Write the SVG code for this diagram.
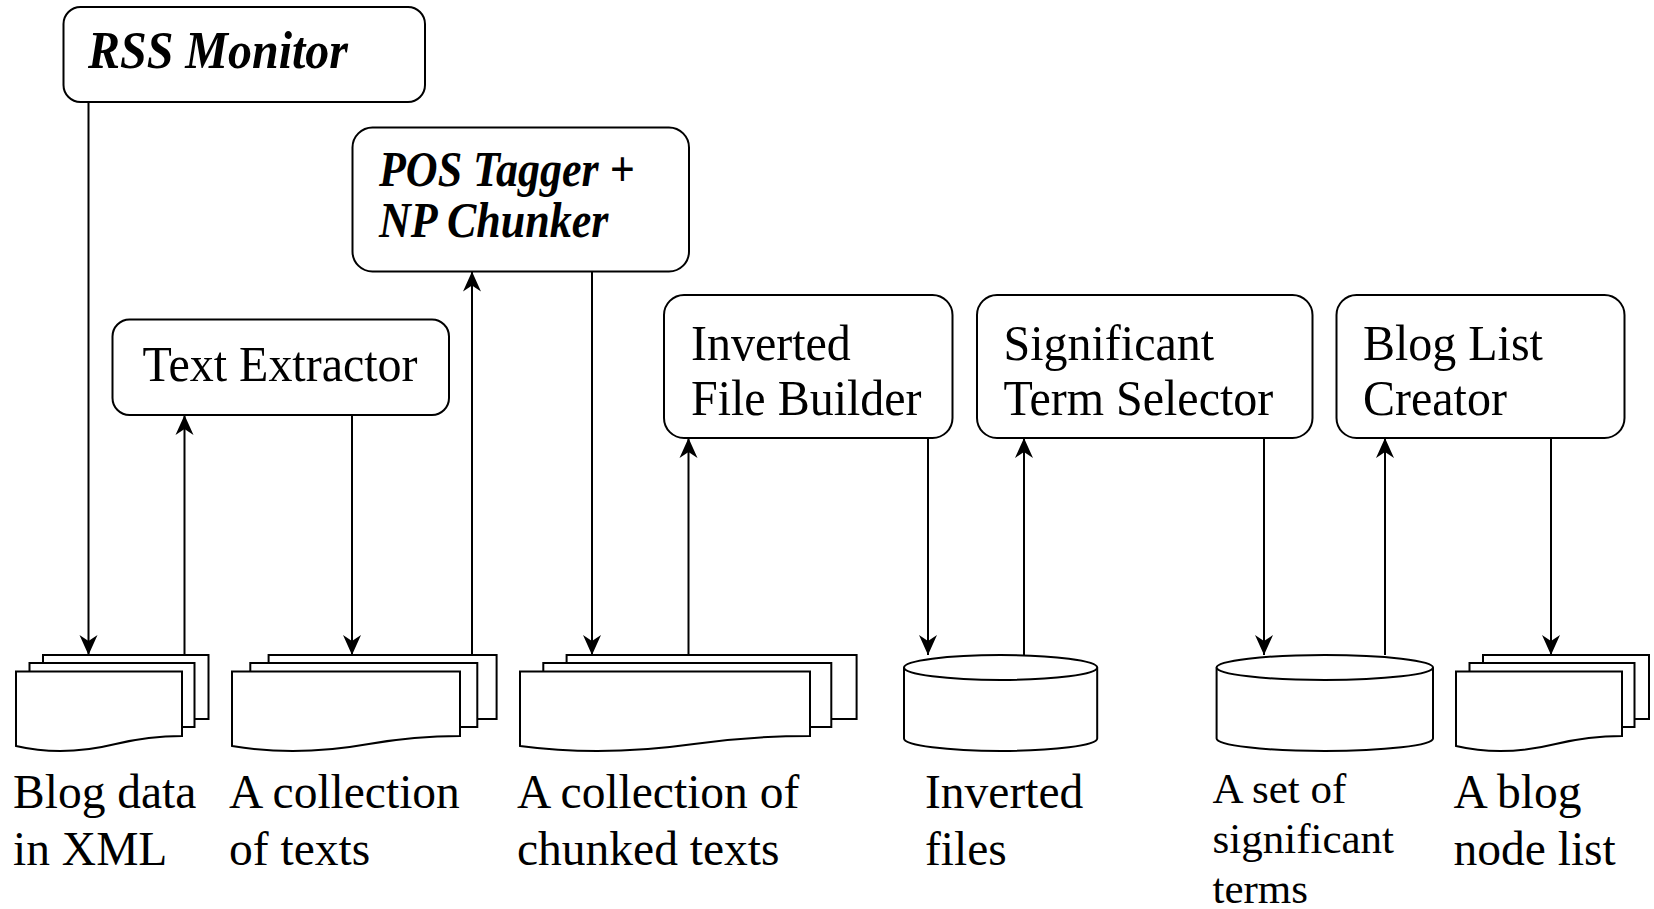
<svg xmlns="http://www.w3.org/2000/svg" width="1654" height="909" viewBox="0 0 1654 909">
  <style>
    .box { fill: #fff; stroke: #000; stroke-width: 2; }
    .page { fill: #fff; stroke: #000; stroke-width: 2; stroke-linejoin: miter; }
    .db { fill: #fff; stroke: #000; stroke-width: 2; }
    .wire { fill: none; stroke: #000; stroke-width: 2; }
    .proc { font-family: "Liberation Serif", "Times New Roman", serif; font-size: 48px; fill: #000; }
    .proc-em { font-family: "Liberation Serif", "Times New Roman", serif; font-size: 48px; font-weight: bold; font-style: italic; fill: #000; }
    .proc-em-sm { font-family: "Liberation Serif", "Times New Roman", serif; font-size: 44px; font-weight: bold; font-style: italic; fill: #000; }
    .lbl { font-family: "Liberation Serif", "Times New Roman", serif; font-size: 47.5px; fill: #000; }
    .lbl-sm { font-family: "Liberation Serif", "Times New Roman", serif; font-size: 43px; fill: #000; }
  </style>
  <defs>
    <marker id="arrow" viewBox="0 0 20 20" refX="20" refY="10" markerWidth="20" markerHeight="20" markerUnits="userSpaceOnUse" orient="auto">
      <path d="M0,1 L20,10 L0,19 L6,10 Z" fill="#000"/>
    </marker>
  </defs>

  <rect width="1654" height="909" fill="#fff"/>

  <!-- processing components -->
  <g id="rss-monitor">
    <rect class="box" x="63.5" y="7" width="361.5" height="95" rx="17"/>
    <g transform="translate(88,68) scale(1,1.1)">
      <text class="proc-em" x="0" y="0">RSS Monitor</text>
    </g>
  </g>

  <g id="text-extractor">
    <rect class="box" x="112.5" y="319.5" width="336.5" height="95.5" rx="17"/>
    <g transform="translate(142.5,380.5) scale(1,1.07)">
      <text class="proc" x="0" y="0">Text Extractor</text>
    </g>
  </g>

  <g id="pos-tagger">
    <rect class="box" x="352.5" y="127.5" width="336.5" height="144" rx="20"/>
    <g transform="translate(379,186) scale(1,1.14)">
      <text class="proc-em-sm" x="0" y="0">POS Tagger +</text>
      <text class="proc-em-sm" x="0" y="45">NP Chunker</text>
    </g>
  </g>

  <g id="inverted-file-builder">
    <rect class="box" x="664" y="295" width="288.5" height="143" rx="20"/>
    <g transform="translate(691,360) scale(1,1.07)">
      <text class="proc" x="0" y="0">Inverted</text>
      <text class="proc" x="0" y="51">File Builder</text>
    </g>
  </g>

  <g id="significant-term-selector">
    <rect class="box" x="977" y="295" width="335.5" height="143" rx="20"/>
    <g transform="translate(1003.5,360) scale(1,1.07)">
      <text class="proc" x="0" y="0">Significant</text>
      <text class="proc" x="0" y="51">Term Selector</text>
    </g>
  </g>

  <g id="blog-list-creator">
    <rect class="box" x="1336.5" y="295" width="288" height="143" rx="20"/>
    <g transform="translate(1363,360) scale(1,1.07)">
      <text class="proc" x="0" y="0">Blog List</text>
      <text class="proc" x="0" y="51">Creator</text>
    </g>
  </g>

  <!-- data stores: stacked documents -->
  <g id="blog-data-xml">
    <rect class="page" x="43" y="655" width="165.5" height="64"/>
    <rect class="page" x="29.5" y="663" width="165" height="64"/>
    <path class="page" d="M16,671.5 V746 C45.9,753 79.1,753 115.6,744 C140.5,738 162,736 182,736 V671.5 Z"/>
    <text class="lbl" x="13" y="808">Blog data</text>
    <text class="lbl" x="13" y="865">in XML</text>
  </g>

  <g id="text-collection">
    <rect class="page" x="268.6" y="655" width="228" height="64"/>
    <rect class="page" x="250.3" y="663" width="227" height="64"/>
    <path class="page" d="M232,671.5 V746 C273,753 318.6,753 368.8,744 C403,738 432.6,736 460,736 V671.5 Z"/>
    <text class="lbl" x="229" y="808">A collection</text>
    <text class="lbl" x="229" y="865">of texts</text>
  </g>

  <g id="chunked-texts">
    <rect class="page" x="566.6" y="655" width="290" height="64"/>
    <rect class="page" x="543.3" y="663" width="288" height="64"/>
    <path class="page" d="M520,671.5 V746 C572.2,753 630.2,753 694,744 C737.5,738 775.2,736 810,736 V671.5 Z"/>
    <text class="lbl" x="517" y="808">A collection of</text>
    <text class="lbl" x="517" y="865">chunked texts</text>
  </g>

  <g id="inverted-files">
    <path class="db" d="M904,667.5 V738.5 A96.6,12.5 0 0 0 1097.2,738.5 V667.5"/>
    <ellipse class="db" cx="1000.6" cy="667.5" rx="96.6" ry="12.5"/>
    <text class="lbl" x="925" y="808">Inverted</text>
    <text class="lbl" x="925" y="865">files</text>
  </g>

  <g id="significant-terms">
    <path class="db" d="M1216.6,667.5 V738.5 A108.2,12.5 0 0 0 1433,738.5 V667.5"/>
    <ellipse class="db" cx="1324.8" cy="667.5" rx="108.2" ry="12.5"/>
    <text class="lbl-sm" x="1212.5" y="803">A set of</text>
    <text class="lbl-sm" x="1212.5" y="853">significant</text>
    <text class="lbl-sm" x="1212.5" y="903">terms</text>
  </g>

  <g id="blog-node-list">
    <rect class="page" x="1483" y="655" width="166" height="64"/>
    <rect class="page" x="1469.5" y="663" width="165" height="64"/>
    <path class="page" d="M1456,671.5 V746 C1485.9,753 1519.1,753 1555.6,744 C1580.5,738 1602,736 1622,736 V671.5 Z"/>
    <text class="lbl" x="1453.5" y="808">A blog</text>
    <text class="lbl" x="1453.5" y="865">node list</text>
  </g>

  <!-- data flow -->
  <g id="connectors">
    <path class="wire" d="M88.5,102 V655" marker-end="url(#arrow)"/>
    <path class="wire" d="M184.5,655 V415" marker-end="url(#arrow)"/>
    <path class="wire" d="M352,415 V655" marker-end="url(#arrow)"/>
    <path class="wire" d="M472,655 V271.5" marker-end="url(#arrow)"/>
    <path class="wire" d="M592,271.5 V655" marker-end="url(#arrow)"/>
    <path class="wire" d="M688.5,655 V438" marker-end="url(#arrow)"/>
    <path class="wire" d="M928,438 V655" marker-end="url(#arrow)"/>
    <path class="wire" d="M1024,655 V438" marker-end="url(#arrow)"/>
    <path class="wire" d="M1264,438 V655" marker-end="url(#arrow)"/>
    <path class="wire" d="M1385,655 V438" marker-end="url(#arrow)"/>
    <path class="wire" d="M1551,438 V655" marker-end="url(#arrow)"/>
  </g>
</svg>
